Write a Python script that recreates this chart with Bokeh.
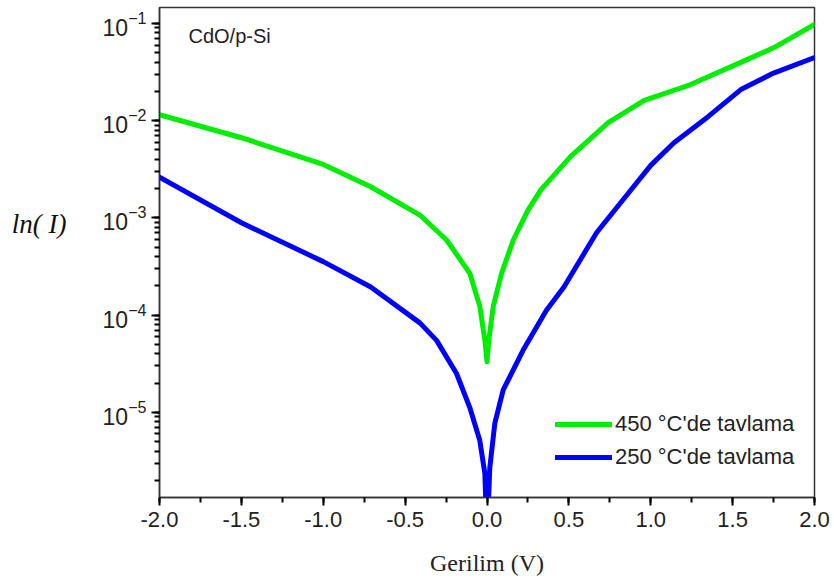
from bokeh.plotting import figure
from bokeh.models import Range1d, LogTicker, SingleIntervalTicker, NumeralTickFormatter, Label, Legend, LegendItem
from bokeh.embed import file_html
from bokeh.resources import INLINE

# Data (voltage in V, current in A)
v_450 = [-2.0, -1.5, -1.0, -0.71, -0.41, -0.247, -0.105, -0.044, -0.013, 0.0,
         0.011, 0.038, 0.089, 0.16, 0.25, 0.33, 0.51, 0.74, 0.96, 1.24, 1.55, 1.75, 2.0]
i_450 = [1.153e-2, 6.68e-3, 3.55e-3, 2.09e-3, 1.07e-3, 5.93e-4, 2.69e-4, 1.23e-4, 5.50e-5, 3.31e-5,
         5.50e-5, 1.23e-4, 2.69e-4, 5.89e-4, 1.20e-3, 1.95e-3, 4.27e-3, 9.55e-3, 1.62e-2, 2.34e-2, 3.98e-2, 5.62e-2, 9.77e-2]

v_250 = [-2.0, -1.5, -1.0, -0.71, -0.41, -0.308, -0.186, -0.105, -0.044, -0.013, 0.0,
         0.017, 0.048, 0.099, 0.221, 0.363, 0.47, 0.67, 0.88, 1.0, 1.14, 1.35, 1.55, 1.75, 2.0]
i_250 = [2.63e-3, 8.91e-4, 3.55e-4, 1.95e-4, 8.32e-5, 5.50e-5, 2.51e-5, 1.12e-5, 5.13e-6, 2.34e-6, 5.0e-7,
         2.69e-6, 7.76e-6, 1.70e-5, 4.37e-5, 1.12e-4, 1.95e-4, 7.08e-4, 1.95e-3, 3.47e-3, 5.89e-3, 1.10e-2, 2.09e-2, 3.09e-2, 4.47e-2]

labels = ["450 \u00b0C'de tavlama", "250 \u00b0C'de tavlama"]
x_label = "Gerilim (V)"
y_label = "ln( I)"
sample = "CdO/p-Si"

p = figure(width=830, height=578, y_axis_type="log", output_backend="svg", toolbar_location=None,
           x_range=Range1d(-2.0, 2.0), y_range=Range1d(1.33e-6, 0.146),
           min_border_left=159, min_border_right=16, min_border_top=7, min_border_bottom=81)
p.xgrid.visible = False
p.ygrid.visible = False
p.outline_line_color = "#333333"
p.outline_line_width = 1.5
p.background_fill_color = "white"

r1 = p.line(v_450, i_450, line_color="#00ee00", line_width=5, line_cap="round", line_join="round")
r2 = p.line(v_250, i_250, line_color="#0000ff", line_width=5, line_cap="round", line_join="round")

ax = p.xaxis[0]
ax.ticker = SingleIntervalTicker(interval=0.5, num_minor_ticks=2)
ax.formatter = NumeralTickFormatter(format="0.0")
ay = p.yaxis[0]
ay.ticker = LogTicker(num_minor_ticks=10)
for a in (ax, ay):
    a.axis_line_color = "#333333"
    a.axis_line_width = 1.5
    a.major_tick_line_color = "black"
    a.minor_tick_line_color = "black"
    a.major_tick_line_width = 2
    a.minor_tick_line_width = 2
    a.major_tick_in = 0
    a.minor_tick_in = 0
    a.major_tick_out = 8
    a.minor_tick_out = 5
    a.major_label_text_font = "Liberation Sans"
    a.major_label_text_color = "#222222"
ax.major_label_text_font_size = "22px"
ay.major_label_text_font_size = "23px"
ax.major_label_standoff = 6
ay.major_label_standoff = 5
ax.axis_label = x_label
ax.axis_label_text_font = "Liberation Serif"
ax.axis_label_text_font_style = "normal"
ax.axis_label_text_font_size = "24px"
ax.axis_label_text_color = "#222222"
ax.axis_label_standoff = 20

ay.axis_label = y_label + "\n "
ay.axis_label_orientation = "horizontal"
ay.axis_label_text_font = "Liberation Serif"
ay.axis_label_text_font_style = "italic"
ay.axis_label_text_font_size = "27px"
ay.axis_label_text_line_height = 1.9
ay.axis_label_text_color = "#111111"
ay.axis_label_standoff = 33

p.add_layout(Label(x=29, y=462, x_units="screen", y_units="screen", text=sample,
                   text_font="Liberation Sans", text_font_size="20px",
                   text_baseline="middle", text_color="#222222"))

legend = Legend(items=[LegendItem(label=labels[0], renderers=[r1]),
                       LegendItem(label=labels[1], renderers=[r2])],
                location=(396, 27), border_line_color=None, background_fill_alpha=0,
                padding=0, margin=0, spacing=7, glyph_width=57, glyph_height=20,
                label_height=20, label_standoff=3,
                label_text_font="Liberation Sans", label_text_font_size="22px",
                label_text_color="#222222")
p.add_layout(legend)

open("out.html", "w").write(file_html(p, INLINE))
